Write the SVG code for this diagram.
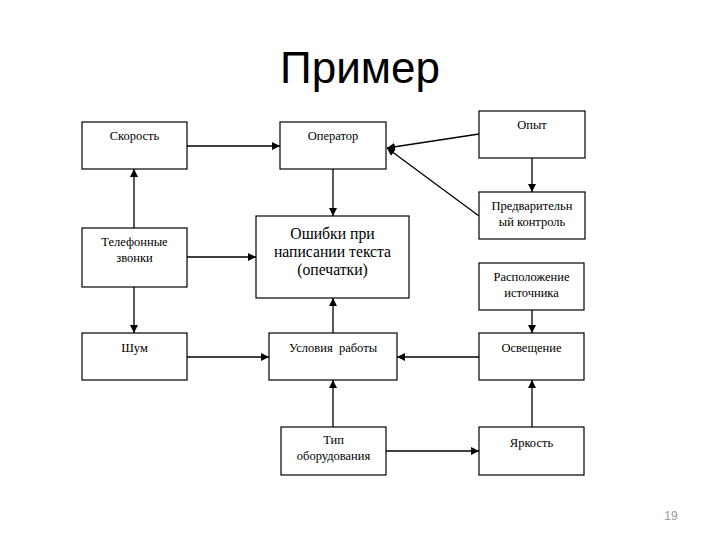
<svg xmlns="http://www.w3.org/2000/svg" width="720" height="540" viewBox="0 0 720 540">
<style>
.box{fill:#fff;stroke:#000;stroke-width:1.2}
.t{font-family:"Liberation Serif","Times New Roman",serif;font-size:12.5px;fill:#000;text-anchor:middle}
.big{font-size:15.7px}
.c{stroke:#000;stroke-width:1.3;fill:none;marker-end:url(#a)}
</style>
<defs>
<marker id="a" viewBox="0 0 10 10" refX="10" refY="5" markerWidth="8" markerHeight="8" markerUnits="userSpaceOnUse" orient="auto">
<path d="M0,0L10,5L0,10z" fill="#000"/>
</marker>
</defs>
<rect width="720" height="540" fill="#fff"/>
<text x="360" y="83" font-family="Liberation Sans,Arial,sans-serif" font-size="44" text-anchor="middle">Пример</text>
<text x="671" y="520" font-family="Liberation Sans,Arial,sans-serif" font-size="12" fill="#999" text-anchor="middle">19</text>
<g id="connectors">
<line class="c" x1="187" y1="146" x2="280" y2="146"/>
<line class="c" x1="479" y1="134" x2="387" y2="148"/>
<line class="c" x1="479" y1="216" x2="387" y2="148"/>
<line class="c" x1="532" y1="158" x2="532" y2="192"/>
<line class="c" x1="333" y1="169" x2="333" y2="216"/>
<line class="c" x1="134" y1="228" x2="134" y2="169"/>
<line class="c" x1="134" y1="287" x2="134" y2="333"/>
<line class="c" x1="187" y1="257" x2="256" y2="257"/>
<line class="c" x1="333" y1="333" x2="333" y2="298"/>
<line class="c" x1="187" y1="357" x2="269" y2="357"/>
<line class="c" x1="479" y1="357" x2="397" y2="357"/>
<line class="c" x1="532" y1="310" x2="532" y2="333"/>
<line class="c" x1="333" y1="427" x2="333" y2="380"/>
<line class="c" x1="386" y1="451" x2="479" y2="451"/>
<line class="c" x1="532" y1="427" x2="532" y2="380"/>
</g>
<g id="skorost"><rect class="box" x="82" y="122" width="105" height="47"/><text class="t" x="134.5" y="140">Скорость</text></g>
<g id="operator"><rect class="box" x="280" y="122" width="106" height="47"/><text class="t" x="333" y="140">Оператор</text></g>
<g id="opyt"><rect class="box" x="479" y="111" width="106" height="47"/><text class="t" x="532" y="129">Опыт</text></g>
<g id="predv"><rect class="box" x="479" y="192" width="106" height="47"/><text class="t" x="532" y="210">Предварительн</text><text class="t" x="532" y="226">ый контроль</text></g>
<g id="telefon"><rect class="box" x="82" y="228" width="105" height="59"/><text class="t" x="134.5" y="246">Телефонные</text><text class="t" x="134.5" y="262">звонки</text></g>
<g id="oshibki"><rect class="box" x="256" y="216" width="153" height="82"/><text class="t big" x="332.5" y="239">Ошибки при</text><text class="t big" x="332.5" y="257">написании текста</text><text class="t big" x="332.5" y="275">(опечатки)</text></g>
<g id="raspol"><rect class="box" x="479" y="263" width="105" height="47"/><text class="t" x="531.5" y="281">Расположение</text><text class="t" x="531.5" y="297">источника</text></g>
<g id="shum"><rect class="box" x="82" y="333" width="105" height="47"/><text class="t" x="134.5" y="352">Шум</text></g>
<g id="usloviya"><rect class="box" x="269" y="333" width="128" height="47"/><text class="t" x="333" y="352" xml:space="preserve">Условия  работы</text></g>
<g id="osveshenie"><rect class="box" x="479" y="333" width="105" height="47"/><text class="t" x="531.5" y="352">Освещение</text></g>
<g id="tip"><rect class="box" x="281" y="427" width="105" height="48"/><text class="t" x="333.5" y="444">Тип</text><text class="t" x="333.5" y="460">оборудования</text></g>
<g id="yarkost"><rect class="box" x="479" y="427" width="105" height="48"/><text class="t" x="531.5" y="447">Яркость</text></g>
</svg>
